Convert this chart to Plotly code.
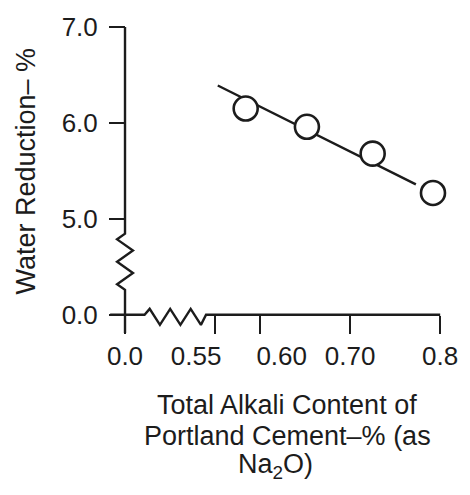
import plotly.graph_objects as go

# ---------------- data ----------------
alkali = [0.584, 0.652, 0.725, 0.792]          # Total alkali content, % as Na2O
water_red = [6.15, 5.96, 5.68, 5.27]           # Water reduction, %
fit_x = [0.553, 0.773]                         # fitted trend line end points
fit_y = [6.39, 5.36]

x_tick_vals = [0.0, 0.55, 0.60, 0.70, 0.80]
x_tick_text = ["0.0", "0.55", "0.60", "0.70", "0.8"]
x_label_pos = [0.0, 0.529, 0.624, 0.70, 0.80]  # labels are printed slightly off their ticks
y_tick_vals = [0.0, 5.0, 6.0, 7.0]
y_tick_text = ["0.0", "5.0", "6.0", "7.0"]

# ---------------- broken-axis mapping ----------------
X_ZERO = 0.45      # display position of x = 0.0 (axis broken between 0 and 0.55)
def xmap(v):
    return X_ZERO if v == 0 else v

def ymap(v):       # axis broken between 0 and 5: 0 -> 0, 5 -> 1, 6 -> 2, 7 -> 3
    return 0.0 if v == 0 else v - 4.0

def zigzag(a, b, n, amp_a, amp_b):
    """break glyph: alternating offsets amp_a / amp_b along [a, b]"""
    pts = [(a, 0.0)]
    for i in range(1, n + 1):
        t = a + (b - a) * (i - 0.5) / n
        pts.append((t, amp_a if i % 2 else amp_b))
    pts.append((b, 0.0))
    return pts

INK = "#1c1c1c"
XR = [0.43, 0.802]
YR = [-0.2, 3.0]

fig = go.Figure()

# y axis line with break
yz = zigzag(0.845, 0.26, 5, -0.0088, 0.0088)
ax_y_x = [X_ZERO, X_ZERO] + [X_ZERO + d for _, d in yz] + [X_ZERO]
ax_y_y = [ymap(7.0), 0.845] + [t for t, _ in yz] + [YR[0] + 0.01]
fig.add_trace(go.Scatter(x=ax_y_x, y=ax_y_y, mode="lines",
                         line=dict(color=INK, width=2.4), hoverinfo="skip",
                         showlegend=False))

# x axis line with break
xz = zigzag(0.4717, 0.540, 6, 0.062, -0.105)
ax_x_x = [0.4335] + [t for t, _ in xz] + [xmap(0.80)]
ax_x_y = [0.0] + [d for _, d in xz] + [0.0]
fig.add_trace(go.Scatter(x=ax_x_x, y=ax_x_y, mode="lines",
                         line=dict(color=INK, width=2.4), hoverinfo="skip",
                         showlegend=False))

# trend line
fig.add_trace(go.Scatter(x=[xmap(v) for v in fit_x], y=[ymap(v) for v in fit_y],
                         mode="lines", line=dict(color=INK, width=2.4),
                         hoverinfo="skip", showlegend=False))

# data points
fig.add_trace(go.Scatter(x=[xmap(v) for v in alkali], y=[ymap(v) for v in water_red],
                         mode="markers", cliponaxis=False,
                         marker=dict(symbol="circle", size=24, color="white",
                                     line=dict(color=INK, width=2.6)),
                         showlegend=False))

FONT = "Liberation Sans, Arial, sans-serif"
x_axis_pos = (0 - YR[0]) / (YR[1] - YR[0])
y_axis_pos = (X_ZERO - XR[0]) / (XR[1] - XR[0])

fig.update_layout(
    width=470, height=495,
    margin=dict(l=106.6, r=21.2, t=24, b=160.6),
    paper_bgcolor="white", plot_bgcolor="white",
    font=dict(family=FONT, color=INK),
    xaxis=dict(range=XR, anchor="free", position=x_axis_pos,
               showline=False, showgrid=False, zeroline=False,
               tickmode="array", tickvals=[xmap(v) for v in x_label_pos],
               ticktext=x_tick_text, ticks="outside", ticklen=18,
               tickcolor="rgba(0,0,0,0)", tickfont=dict(size=26, color=INK),
               minor=dict(tickmode="array", tickvals=[xmap(v) for v in x_tick_vals],
                          ticks="outside", ticklen=18, tickwidth=2.4, tickcolor=INK,
                          showgrid=False)),
    yaxis=dict(range=YR, anchor="free", position=y_axis_pos,
               showline=False, showgrid=False, zeroline=False,
               tickmode="array", tickvals=[ymap(v) for v in y_tick_vals],
               ticktext=y_tick_text, ticks="outside", ticklen=16, tickwidth=2.4,
               tickcolor=INK, tickfont=dict(size=26, color=INK),
               ticklabelstandoff=6),
)

W = 470 - 106.6 - 21.2
H = 495 - 24 - 160.6
def px2paper_x(px):
    return (px - 106.6) / W
def px2paper_y(py):
    return (495 - 160.6 - py) / H

fig.add_annotation(text="Water Reduction\u2013 %", textangle=-90,
                   xref="paper", yref="paper", x=px2paper_x(24), y=px2paper_y(170),
                   xanchor="center", yanchor="middle", showarrow=False,
                   font=dict(size=27, family=FONT, color=INK))

title_lines = ["Total Alkali Content of", "Portland Cement\u2013% (as", "Na<sub>2</sub>O)"]
title_cx = [290, 291, 279]
title_cy = [406, 438, 468]
for txt, cx, cy in zip(title_lines, title_cx, title_cy):
    fig.add_annotation(text=txt, xref="paper", yref="paper",
                       x=px2paper_x(cx), y=px2paper_y(cy),
                       xanchor="center", yanchor="middle", showarrow=False,
                       font=dict(size=27, family=FONT, color=INK))

fig.write_html("out.html")
